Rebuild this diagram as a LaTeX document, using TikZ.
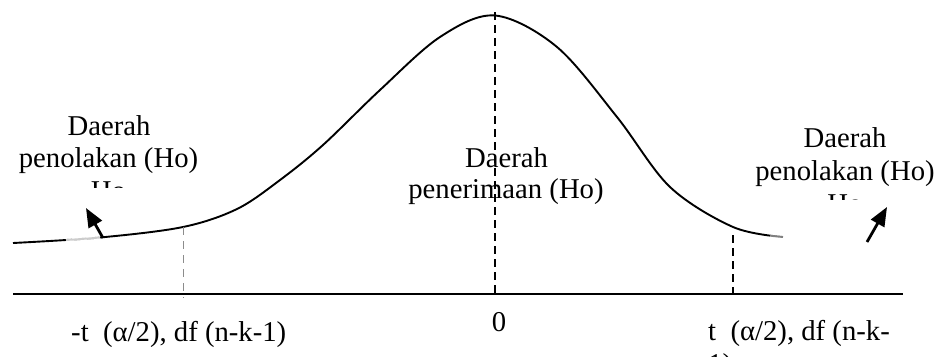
\documentclass[tikz,border=0pt]{standalone}
\usepackage{fontspec}
\setmainfont{Liberation Serif}
\usetikzlibrary{arrows.meta}
\begin{document}
\begin{tikzpicture}[x=1pt,y=-1pt,
  lbl/.style={inner sep=0pt,font=\fontsize{28.7}{33}\selectfont},
  curveline/.style={line width=1.9pt,line join=round},
  axisline/.style={line width=2.5pt},
  blackdash/.style={line width=1.8pt,dash pattern=on 8pt off 5pt},
  greydash/.style={line width=0.9pt,draw=black!45,dash pattern=on 8pt off 6pt},
  bigarrow/.style={line width=2.8pt,-{Triangle[length=19pt,width=15pt]}}]
\useasboundingbox (0,0) rectangle (939,356);
% bell curve
\draw[curveline] plot[smooth,tension=0.55] coordinates {
 (13,243) (100,237.5) (183,227) (237,209) (280,180) (323,145) (380,90)
 (440,37) (495,15.5) (557,47) (617,117) (670,187) (733,227) (783,237)};
\draw[white,opacity=0.8,line width=2.6pt] (66,240) -- (100,237.5);
\draw[white,opacity=0.5,line width=2.6pt] (770,236.2) -- (784,237.2);
% axis
\coordinate (axL) at (13,294);
\coordinate (axR) at (903,294);
\draw[axisline] (axL) -- (axR);
% dashed verticals
\coordinate (lTop) at (183,227); \coordinate (lBot) at (183,298);
\coordinate (cTop) at (495,12);  \coordinate (cBot) at (495,297);
\coordinate (rTop) at (733,235); \coordinate (rBot) at (733,297);
\draw[greydash] (lTop) -- (lBot);
\draw[blackdash] (cTop) -- (cBot);
\draw[blackdash] (rTop) -- (rBot);
% arrows
\coordinate (aL1) at (103,238); \coordinate (aL2) at (86,208);
\coordinate (aR1) at (867,242); \coordinate (aR2) at (887,207);
\draw[bigarrow] (aL1) -- (aL2);
\draw[bigarrow] (aR1) -- (aR2);
% left region text
\node[lbl,anchor=base] (l1) at (109,135) {Daerah};
\node[lbl,anchor=base] (l2) at (108.5,167) {penolakan (Ho)};
\begin{scope}
\clip (0,170) rectangle (220,187.5);
\node[lbl,anchor=base] (l3) at (108.5,200) {Ho};
\end{scope}
% right region text
\node[lbl,anchor=base] (r1) at (845,147) {Daerah};
\node[lbl,anchor=base] (r2) at (845,180) {penolakan (Ho)};
\begin{scope}
\clip (740,183) rectangle (939,199);
\node[lbl,anchor=base] (r3) at (845,213) {Ho};
\end{scope}
% centre text
\node[lbl,anchor=base] (c1) at (506.5,167) {Daerah};
\node[lbl,anchor=base] (c2) at (506,198) {penerimaan (Ho)};
% axis labels
\node[lbl,anchor=base west] (t1) at (71,341) {-t\ \ (α/2), df (n-k-1)};
\node[lbl,anchor=base] (t0) at (499,331) {0};
\node[lbl,anchor=base west] (t2) at (708,340) {t\ \ (α/2), df (n-k-};
\begin{scope}
\clip (600,300) rectangle (939,356);
\node[lbl,anchor=base west] (t3) at (708,373) {1)};
\end{scope}
\end{tikzpicture}
\end{document}
